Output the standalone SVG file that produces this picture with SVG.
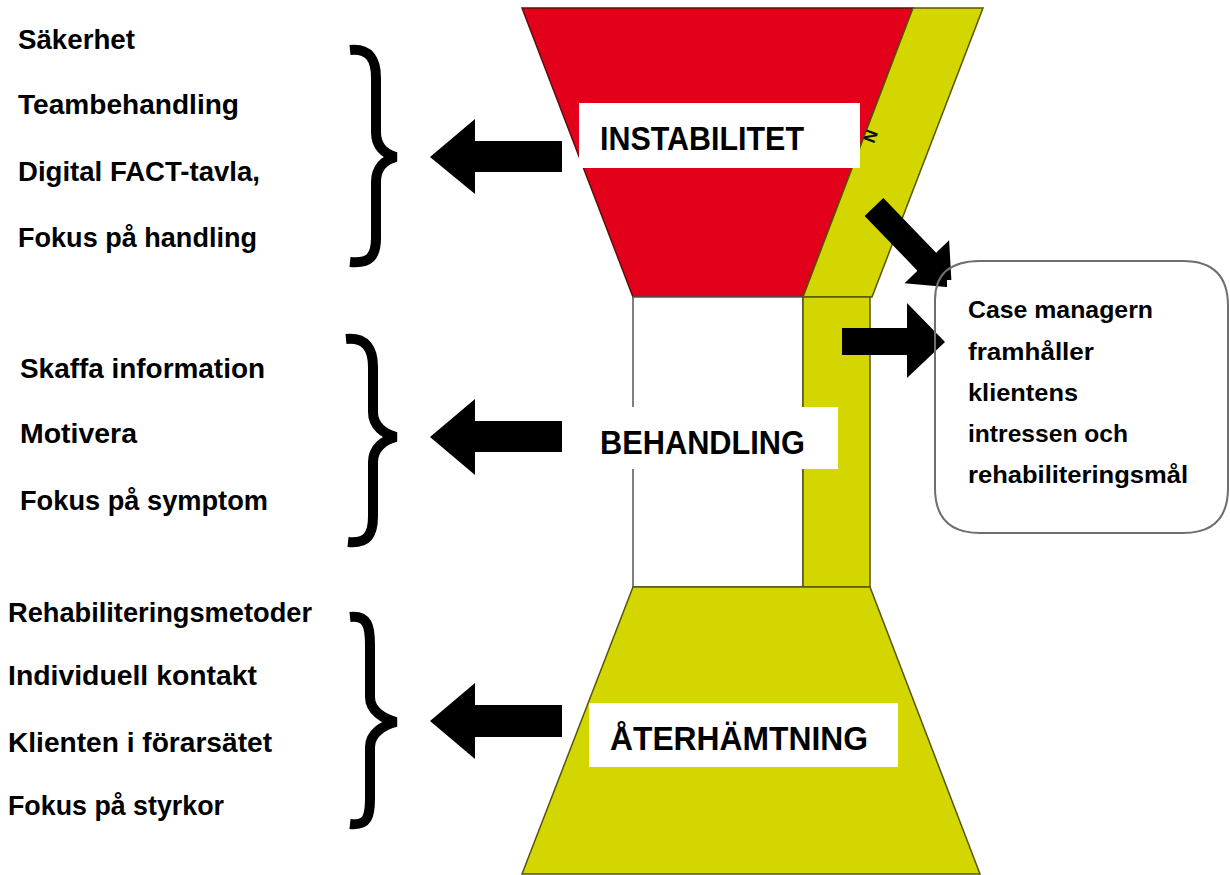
<svg xmlns="http://www.w3.org/2000/svg" width="1230" height="875" viewBox="0 0 1230 875">
<defs>
<style>
.lst{font-family:"Liberation Sans",Arial,sans-serif;font-weight:bold;font-size:28px;fill:#000}
.hdr{font-family:"Liberation Sans",Arial,sans-serif;font-weight:bold;font-size:33px;fill:#000}
.cm{font-family:"Liberation Sans",Arial,sans-serif;font-weight:bold;font-size:24px;fill:#000}
.red{fill:#e2001a;stroke:#5a1010;stroke-width:1.5}
.yel{fill:#d4d600;stroke:#55560a;stroke-width:1.5}
.wht{fill:#ffffff;stroke:#555;stroke-width:1.5}
.lbl{fill:#ffffff}
.brace{fill:none;stroke:#000;stroke-width:10}
.arr{fill:#000}
</style>
</defs>
<rect x="0" y="0" width="1230" height="875" fill="#ffffff"/>

<g id="hourglass">
<polygon id="top-red" class="red" points="522,8 913,8 803,297 633,297"/>
<polygon id="top-band" class="yel" points="913,8 983,8 872,297 803,297"/>
<rect id="mid-white" class="wht" x="633" y="297" width="170" height="290"/>
<rect id="mid-band" class="yel" x="803" y="297" width="67" height="290"/>
<polygon id="bottom-yellow" class="yel" points="633,587 870,587 980,874 522,874"/>
<text x="0" y="0" font-family="Liberation Sans,Arial,sans-serif" font-weight="bold" font-size="17" fill="#111" transform="translate(874,144) rotate(-70)">N</text>
</g>

<g id="node-instabilitet">
<rect class="lbl" x="579" y="103" width="281" height="65"/>
<text class="hdr" x="600" y="150" textLength="204" lengthAdjust="spacingAndGlyphs">INSTABILITET</text>
</g>
<g id="node-behandling">
<rect class="lbl" x="578" y="407" width="260" height="62"/>
<text class="hdr" x="600" y="454" textLength="205" lengthAdjust="spacingAndGlyphs">BEHANDLING</text>
</g>
<g id="node-aterhamtning">
<rect class="lbl" x="589" y="703" width="309" height="64"/>
<text class="hdr" x="610" y="750" textLength="258" lengthAdjust="spacingAndGlyphs">ÅTERHÄMTNING</text>
</g>

<g id="list-instabilitet">
<text class="lst" x="18" y="49" textLength="117" lengthAdjust="spacingAndGlyphs">Säkerhet</text>
<text class="lst" x="18" y="114" textLength="221" lengthAdjust="spacingAndGlyphs">Teambehandling</text>
<text class="lst" x="18" y="181" textLength="242" lengthAdjust="spacingAndGlyphs">Digital FACT-tavla,</text>
<text class="lst" x="18" y="247" textLength="239" lengthAdjust="spacingAndGlyphs">Fokus på handling</text>
</g>
<g id="list-behandling">
<text class="lst" x="20" y="378" textLength="245" lengthAdjust="spacingAndGlyphs">Skaffa information</text>
<text class="lst" x="20" y="443" textLength="117" lengthAdjust="spacingAndGlyphs">Motivera</text>
<text class="lst" x="20" y="510" textLength="248" lengthAdjust="spacingAndGlyphs">Fokus på symptom</text>
</g>
<g id="list-aterhamtning">
<text class="lst" x="8" y="622" textLength="304" lengthAdjust="spacingAndGlyphs">Rehabiliteringsmetoder</text>
<text class="lst" x="8" y="685" textLength="249" lengthAdjust="spacingAndGlyphs">Individuell kontakt</text>
<text class="lst" x="8" y="752" textLength="264" lengthAdjust="spacingAndGlyphs">Klienten i förarsätet</text>
<text class="lst" x="8" y="815" textLength="216" lengthAdjust="spacingAndGlyphs">Fokus på styrkor</text>
</g>

<g id="connectors">
<path class="brace" d="M350,50 C370,48 376,60 376,78 L376,132 C376,146 384,154 396,157 C384,160 376,168 376,182 L376,238 C376,256 370,264 350,262"/>
<path class="brace" d="M346,339 C366,337 373,349 373,367 L373,412 C373,426 384,434 396,437 C384,440 373,448 373,462 L373,516 C373,534 368,544 348,542"/>
<path class="brace" d="M350,617 C368,615 370,627 370,645 L370,697 C370,711 384,719 396,722 C384,725 370,733 370,747 L370,798 C370,816 368,826 350,824"/>
<polygon class="arr" points="430,157 475,119 475,141 562,141 562,172 475,172 475,194"/>
<polygon class="arr" points="430,437 475,399 475,421 562,421 562,452 475,452 475,475"/>
<polygon class="arr" points="430,721 475,683 475,705 562,705 562,737 475,737 475,759"/>
<polygon class="arr" points="842,328 907,328 907,303 945,342 907,378 907,355 842,355"/>
<polygon class="arr" transform="translate(874,207) rotate(46)" points="0,-13 76,-13 76,-31 112,0 76,31 76,13 0,13"/>
</g>

<g id="node-casemanager">
<path d="M935,300 L935,488 Q935,533 980,533 L1183,533 Q1228,533 1228,488 L1228,306 Q1228,261 1183,261 L980,261 Q935,261 935,300" fill="none" stroke="#6e6e6e" stroke-width="2"/>
<rect x="947" y="280" width="267" height="225" fill="#ffffff"/>
<text class="cm" x="968" y="318" textLength="185" lengthAdjust="spacingAndGlyphs">Case managern</text>
<text class="cm" x="968" y="360" textLength="126" lengthAdjust="spacingAndGlyphs">framhåller</text>
<text class="cm" x="968" y="401" textLength="110" lengthAdjust="spacingAndGlyphs">klientens</text>
<text class="cm" x="968" y="442" textLength="160" lengthAdjust="spacingAndGlyphs">intressen och</text>
<text class="cm" x="968" y="483" textLength="220" lengthAdjust="spacingAndGlyphs">rehabiliteringsmål</text>
</g>
</svg>
